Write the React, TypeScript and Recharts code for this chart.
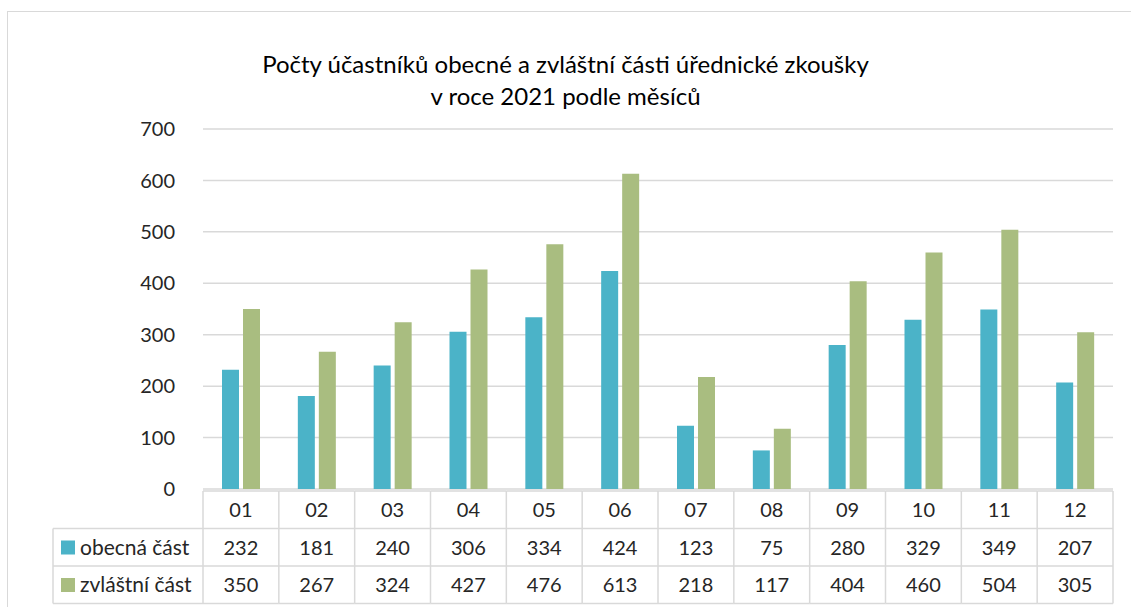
import { BarChart, Bar, XAxis, YAxis, CartesianGrid } from "recharts";

const months = ["01", "02", "03", "04", "05", "06", "07", "08", "09", "10", "11", "12"];
const obecna = [232, 181, 240, 306, 334, 424, 123, 75, 280, 329, 349, 207];
const zvlastni = [350, 267, 324, 427, 476, 613, 218, 117, 404, 460, 504, 305];
const yTicks = [0, 100, 200, 300, 400, 500, 600, 700];

const seriesNames = ["obecná část", "zvláštní část"];
const BLUE = "#4bb3c8";
const GREEN = "#a9bd80";
const LINE = "#d9d9d9";
const FONT = "Lato, 'Open Sans', sans-serif";

const data = months.map((m, i) => ({ m, obecna: obecna[i], zvlastni: zvlastni[i] }));

// table geometry
const BAND = 910 / 12;
const ROW = 37.5;
const LABEL_W = 150;

function TableTick(props: any) {
  const { x, y, index } = props;
  const left = x - BAND / 2;
  const right = x + BAND / 2;
  const rows = [obecna[index], zvlastni[index]];
  return (
    <g fontFamily={FONT} fontSize={20} fill="#262626">
      <line x1={left} x2={right} y1={y} y2={y} stroke={LINE} strokeWidth={1.5} />
      {[1, 2, 3].map((r) => (
        <line key={r} x1={left} x2={right} y1={y + r * ROW} y2={y + r * ROW} stroke={LINE} strokeWidth={1.5} />
      ))}
      <line x1={right} x2={right} y1={y} y2={y + 3 * ROW} stroke={LINE} strokeWidth={1.5} />
      {index === 0 && (
        <g>
          <line x1={left} x2={left} y1={y} y2={y + 3 * ROW} stroke={LINE} strokeWidth={1.5} />
          <line x1={left - LABEL_W} x2={left - LABEL_W} y1={y + ROW} y2={y + 3 * ROW} stroke={LINE} strokeWidth={1.5} />
          {[1, 2, 3].map((r) => (
            <line key={r} x1={left - LABEL_W} x2={left} y1={y + r * ROW} y2={y + r * ROW} stroke={LINE} strokeWidth={1.5} />
          ))}
          {seriesNames.map((n, r) => (
            <g key={n}>
              <rect x={left - LABEL_W + 8} y={y + (r + 1) * ROW + 12} width={14} height={14} fill={r === 0 ? BLUE : GREEN} />
              <text x={left - LABEL_W + 27} y={y + (r + 1) * ROW + 26} fontSize={21} fill="#262626">{n}</text>
            </g>
          ))}
        </g>
      )}
      <text x={x} y={y + 26} textAnchor="middle">{months[index]}</text>
      {rows.map((v, r) => (
        <text key={r} x={x} y={y + (r + 1) * ROW + 26} textAnchor="middle">{v}</text>
      ))}
    </g>
  );
}

export default function App() {
  return (
    <div style={{ position: "absolute", left: 0, top: 0, width: 1131, height: 607, background: "#fff", overflow: "hidden" }}>
      <div style={{ position: "absolute", left: 7, top: 11, width: 1130, height: 620, border: `1px solid ${LINE}` }} />
      <div
        style={{
          position: "absolute",
          left: 0,
          width: 1131,
          top: 48,
          textAlign: "center",
          fontFamily: FONT,
          fontSize: 24,
          lineHeight: "32px",
          color: "#000",
        }}
      >
        <div>Počty účastníků obecné a zvláštní části úřednické zkoušky</div>
        <div>v roce 2021 podle měsíců</div>
      </div>
      <div style={{ position: "absolute", left: 0, top: 0 }}>
        <BarChart
          width={1131}
          height={607}
          data={data}
          margin={{ top: 129, right: 18, bottom: 0, left: 0 }}
          barGap={4}
          barCategoryGap={19}
        >
          <CartesianGrid vertical={false} stroke={LINE} strokeWidth={1.5} />
          <YAxis
            width={203}
            domain={[0, 700]}
            ticks={yTicks}
            axisLine={false}
            tickLine={false}
            tickMargin={22}
            tick={{ fill: "#262626", fontSize: 20, fontFamily: FONT }}
          />
          <XAxis dataKey="m" height={118} axisLine={false} tickLine={false} tickSize={0} tick={<TableTick />} interval={0} />
          <Bar dataKey="obecna" fill={BLUE} isAnimationActive={false} />
          <Bar dataKey="zvlastni" fill={GREEN} isAnimationActive={false} />
        </BarChart>
      </div>
    </div>
  );
}
